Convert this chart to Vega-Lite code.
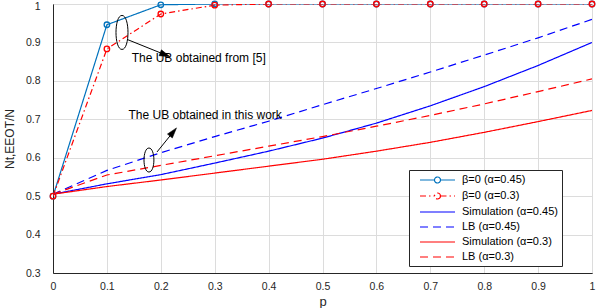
{
  "$schema": "https://vega.github.io/schema/vega-lite/v6.json",
  "width": 539,
  "height": 269,
  "autosize": {"type": "none"},
  "padding": {"left": 53, "top": 4, "right": 6, "bottom": 35},
  "background": "white",
  "config": {
    "font": "Liberation Sans",
    "view": {"stroke": "#262626", "strokeWidth": 1},
    "axis": {
      "labelFont": "Liberation Sans",
      "titleFont": "Liberation Sans",
      "labelFontSize": 10.5,
      "labelColor": "#262626",
      "titleColor": "#262626",
      "titleFontWeight": "normal",
      "gridColor": "#dcdcdc",
      "gridWidth": 1,
      "domainColor": "#262626",
      "tickColor": "#262626",
      "ticks": false,
      "labelOverlap": false,
      "labelFlush": false
    }
  },
  "datasets": {
    "curves": [
      {"series": "β=0 (α=0.45)", "p": 0, "v": 0.5},
      {"series": "β=0 (α=0.45)", "p": 0.1, "v": 0.946},
      {"series": "β=0 (α=0.45)", "p": 0.2, "v": 0.998},
      {"series": "β=0 (α=0.45)", "p": 0.3, "v": 1},
      {"series": "β=0 (α=0.45)", "p": 0.4, "v": 1},
      {"series": "β=0 (α=0.45)", "p": 0.5, "v": 1},
      {"series": "β=0 (α=0.45)", "p": 0.6, "v": 1},
      {"series": "β=0 (α=0.45)", "p": 0.7, "v": 1},
      {"series": "β=0 (α=0.45)", "p": 0.8, "v": 1},
      {"series": "β=0 (α=0.45)", "p": 0.9, "v": 1},
      {"series": "β=0 (α=0.45)", "p": 1, "v": 1},
      {"series": "β=0 (α=0.3)", "p": 0, "v": 0.5},
      {"series": "β=0 (α=0.3)", "p": 0.1, "v": 0.883},
      {"series": "β=0 (α=0.3)", "p": 0.2, "v": 0.974},
      {"series": "β=0 (α=0.3)", "p": 0.3, "v": 0.997},
      {"series": "β=0 (α=0.3)", "p": 0.4, "v": 1},
      {"series": "β=0 (α=0.3)", "p": 0.5, "v": 1},
      {"series": "β=0 (α=0.3)", "p": 0.6, "v": 1},
      {"series": "β=0 (α=0.3)", "p": 0.7, "v": 1},
      {"series": "β=0 (α=0.3)", "p": 0.8, "v": 1},
      {"series": "β=0 (α=0.3)", "p": 0.9, "v": 1},
      {"series": "β=0 (α=0.3)", "p": 1, "v": 1},
      {"series": "Simulation (α=0.45)", "p": 0, "v": 0.505},
      {"series": "Simulation (α=0.45)", "p": 0.1, "v": 0.532},
      {"series": "Simulation (α=0.45)", "p": 0.2, "v": 0.556},
      {"series": "Simulation (α=0.45)", "p": 0.3, "v": 0.586},
      {"series": "Simulation (α=0.45)", "p": 0.4, "v": 0.617},
      {"series": "Simulation (α=0.45)", "p": 0.5, "v": 0.651},
      {"series": "Simulation (α=0.45)", "p": 0.6, "v": 0.69},
      {"series": "Simulation (α=0.45)", "p": 0.7, "v": 0.735},
      {"series": "Simulation (α=0.45)", "p": 0.8, "v": 0.785},
      {"series": "Simulation (α=0.45)", "p": 0.9, "v": 0.84},
      {"series": "Simulation (α=0.45)", "p": 1, "v": 0.9},
      {"series": "LB (α=0.45)", "p": 0, "v": 0.505},
      {"series": "LB (α=0.45)", "p": 0.1, "v": 0.567},
      {"series": "LB (α=0.45)", "p": 0.2, "v": 0.613},
      {"series": "LB (α=0.45)", "p": 0.3, "v": 0.655},
      {"series": "LB (α=0.45)", "p": 0.4, "v": 0.695},
      {"series": "LB (α=0.45)", "p": 0.5, "v": 0.738},
      {"series": "LB (α=0.45)", "p": 0.6, "v": 0.78},
      {"series": "LB (α=0.45)", "p": 0.7, "v": 0.823},
      {"series": "LB (α=0.45)", "p": 0.8, "v": 0.867},
      {"series": "LB (α=0.45)", "p": 0.9, "v": 0.912},
      {"series": "LB (α=0.45)", "p": 1, "v": 0.96},
      {"series": "Simulation (α=0.3)", "p": 0, "v": 0.505},
      {"series": "Simulation (α=0.3)", "p": 0.1, "v": 0.525},
      {"series": "Simulation (α=0.3)", "p": 0.2, "v": 0.542},
      {"series": "Simulation (α=0.3)", "p": 0.3, "v": 0.56},
      {"series": "Simulation (α=0.3)", "p": 0.4, "v": 0.578},
      {"series": "Simulation (α=0.3)", "p": 0.5, "v": 0.596},
      {"series": "Simulation (α=0.3)", "p": 0.6, "v": 0.617},
      {"series": "Simulation (α=0.3)", "p": 0.7, "v": 0.64},
      {"series": "Simulation (α=0.3)", "p": 0.8, "v": 0.666},
      {"series": "Simulation (α=0.3)", "p": 0.9, "v": 0.694},
      {"series": "Simulation (α=0.3)", "p": 1, "v": 0.723},
      {"series": "LB (α=0.3)", "p": 0, "v": 0.505},
      {"series": "LB (α=0.3)", "p": 0.1, "v": 0.555},
      {"series": "LB (α=0.3)", "p": 0.2, "v": 0.58},
      {"series": "LB (α=0.3)", "p": 0.3, "v": 0.605},
      {"series": "LB (α=0.3)", "p": 0.4, "v": 0.63},
      {"series": "LB (α=0.3)", "p": 0.5, "v": 0.655},
      {"series": "LB (α=0.3)", "p": 0.6, "v": 0.682},
      {"series": "LB (α=0.3)", "p": 0.7, "v": 0.71},
      {"series": "LB (α=0.3)", "p": 0.8, "v": 0.74},
      {"series": "LB (α=0.3)", "p": 0.9, "v": 0.772},
      {"series": "LB (α=0.3)", "p": 1, "v": 0.805}
    ],
    "notes": [
      {"p": 0.146, "v": 0.86, "text": "The UB obtained from [5]"},
      {"p": 0.14, "v": 0.711, "text": "The UB obtained in this work"}
    ],
    "ellipse1": [{"p": 0.128, "v": 0.926}],
    "ellipse2": [{"p": 0.178, "v": 0.594}],
    "arrow1": [{"p": 0.139, "v": 0.907, "p2": 0.208, "v2": 0.868}],
    "arrow2": [{"p": 0.193, "v": 0.615, "p2": 0.223, "v2": 0.667}]
  },
  "encoding": {
    "x": {
      "field": "p", "type": "quantitative",
      "scale": {"domain": [0, 1], "nice": false},
      "axis": {"values": [0, 0.1, 0.2, 0.3, 0.4, 0.5, 0.6, 0.7, 0.8, 0.9, 1], "format": "~g", "title": "p", "titleFontSize": 13, "labelPadding": 8, "titlePadding": 4, "grid": true, "labelOverlap": false}
    },
    "y": {
      "field": "v", "type": "quantitative",
      "scale": {"domain": [0.3, 1], "nice": false},
      "axis": {"values": [0.3, 0.4, 0.5, 0.6, 0.7, 0.8, 0.9, 1], "format": "~g", "title": "Nt,EEOT/N", "titleFontSize": 12, "labelPadding": 13, "titlePadding": 9, "grid": true, "labelOverlap": false, "tickCount": 8,
        "labelOffset": {"condition": {"test": "datum.value == 1", "value": 2}, "value": 0}}
    }
  },
  "layer": [
    {
      "data": {"name": "curves"},
      "mark": {"type": "line", "strokeWidth": 1.2, "clip": true},
      "encoding": {
        "color": {
          "field": "series", "type": "nominal",
          "scale": {
            "domain": ["β=0 (α=0.45)", "β=0 (α=0.3)", "Simulation (α=0.45)", "LB (α=0.45)", "Simulation (α=0.3)", "LB (α=0.3)"],
            "range": ["#0072BD", "#FF0000", "#0000FF", "#0000FF", "#FF0000", "#FF0000"]
          },
          "legend": {
            "title": null,
            "orient": "none",
            "legendX": 356,
            "legendY": 166,
            "fillColor": "white",
            "strokeColor": "#262626",
            "padding": 4,
            "labelFont": "Liberation Sans",
            "labelFontSize": 11,
            "labelColor": "#000000",
            "symbolSize": 100,
            "symbolStrokeWidth": 1.2,
            "symbolOffset": 18.5,
            "labelOffset": 18.5,
            "rowPadding": 4,
            "labelLimit": 200,
            "encode": {
              "symbols": {
                "update": {
                  "shape": {"signal": "indexof(datum.value, 'β') == 0 ? 'M-3.5,0H-0.6M0.6,0H3.5M0.6,0A0.6,0.6,0,1,1,-0.6,0A0.6,0.6,0,1,1,0.6,0' : 'M-3.5,0H3.5'"},
                  "fill": {"value": "transparent"}
                }
              }
            }
          }
        },
        "strokeDash": {
          "field": "series", "type": "nominal",
          "scale": {
            "domain": ["β=0 (α=0.45)", "β=0 (α=0.3)", "Simulation (α=0.45)", "LB (α=0.45)", "Simulation (α=0.3)", "LB (α=0.3)"],
            "range": [[1, 0], [6, 3, 1.5, 3], [1, 0], [8, 5], [1, 0], [8, 5]]
          }
        }
      }
    },
    {
      "data": {"name": "curves"},
      "transform": [{"filter": "indexof(datum.series, 'β') == 0"}],
      "mark": {"type": "point", "shape": "circle", "size": 30, "strokeWidth": 1.3, "filled": false, "opacity": 1},
      "encoding": {
        "stroke": {"condition": {"test": "datum.series == 'β=0 (α=0.45)'", "value": "#0072BD"}, "value": "#FF0000"}
      }
    },
    {
      "data": {"name": "notes"},
      "mark": {"type": "text", "align": "left", "baseline": "middle", "fontSize": 12, "font": "Liberation Sans", "color": "#000000"},
      "encoding": {
        "text": {"field": "text"}
      }
    },
    {
      "data": {"name": "ellipse1"},
      "mark": {"type": "point", "shape": "M0,-1C0.47,-1,0.47,1,0,1C-0.47,1,-0.47,-1,0,-1Z", "size": 1156, "filled": false, "stroke": "#000000", "strokeWidth": 1, "opacity": 1},
      "encoding": {}
    },
    {
      "data": {"name": "ellipse2"},
      "mark": {"type": "point", "shape": "M0,-1C0.55,-1,0.55,1,0,1C-0.55,1,-0.55,-1,0,-1Z", "size": 576, "filled": false, "stroke": "#000000", "strokeWidth": 1, "opacity": 1},
      "encoding": {}
    },
    {
      "data": {"name": "arrow1"},
      "mark": {"type": "rule", "color": "#000000", "strokeWidth": 1},
      "encoding": {
        "x2": {"field": "p2"},
        "y2": {"field": "v2"}
      }
    },
    {
      "data": {"name": "arrow1"},
      "mark": {"type": "point", "shape": "M1,0L-1,-0.6L-1,0.6Z", "angle": 22, "size": 110, "filled": true, "fill": "#000000", "stroke": "#000000", "strokeWidth": 0.5, "opacity": 1},
      "encoding": {
        "x": {"field": "p2", "type": "quantitative"},
        "y": {"field": "v2", "type": "quantitative"}
      }
    },
    {
      "data": {"name": "arrow2"},
      "mark": {"type": "rule", "color": "#000000", "strokeWidth": 1},
      "encoding": {
        "x2": {"field": "p2"},
        "y2": {"field": "v2"}
      }
    },
    {
      "data": {"name": "arrow2"},
      "mark": {"type": "point", "shape": "M1,0L-1,-0.6L-1,0.6Z", "angle": 309, "size": 110, "filled": true, "fill": "#000000", "stroke": "#000000", "strokeWidth": 0.5, "opacity": 1},
      "encoding": {
        "x": {"field": "p2", "type": "quantitative"},
        "y": {"field": "v2", "type": "quantitative"}
      }
    }
  ]
}
